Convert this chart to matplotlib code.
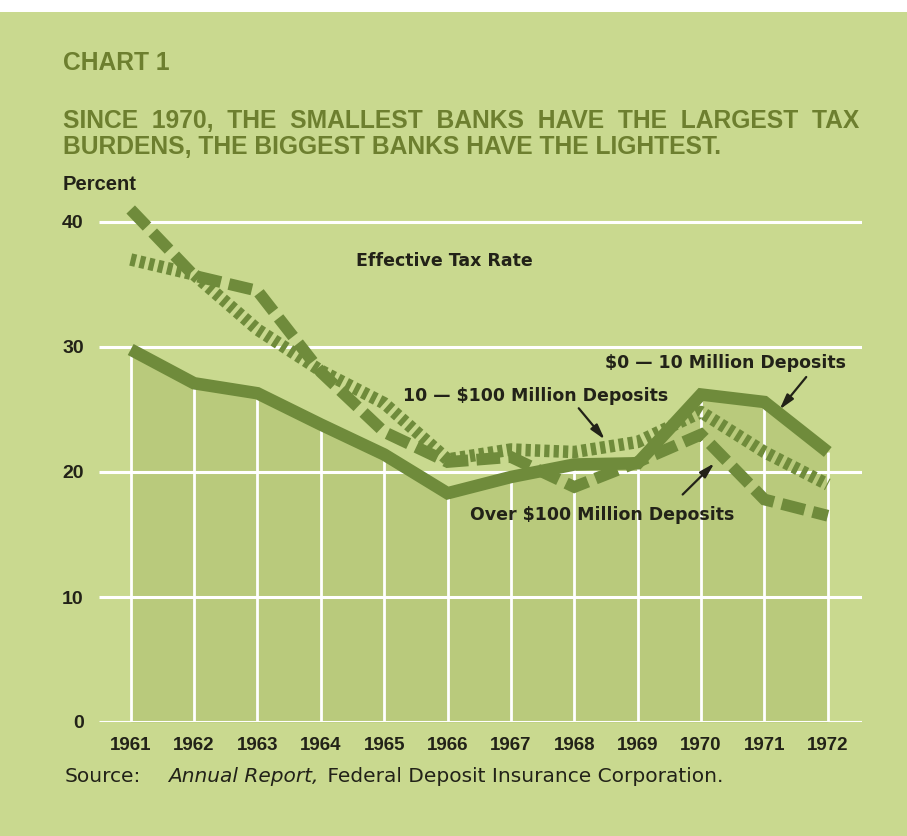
import matplotlib.pyplot as plt
from matplotlib.patches import Rectangle

# Effective tax rate, percent
years = [1961, 1962, 1963, 1964, 1965, 1966, 1967, 1968, 1969, 1970, 1971, 1972]
small_banks = [29.8, 27.1, 26.3, 23.8, 21.4, 18.3, 19.6, 20.6, 20.7, 26.2, 25.6, 21.6]
mid_banks = [37.0, 35.8, 31.4, 28.1, 25.5, 21.0, 21.8, 21.6, 22.4, 24.8, 21.6, 19.0]
large_banks = [41.0, 35.7, 34.5, 28.0, 23.2, 20.8, 21.2, 18.8, 20.8, 23.0, 17.8, 16.5]
yticks = [0, 10, 20, 30, 40]

bg = '#c9d98f'
fill_col = '#b9ca7c'
line_col = '#6f8b3b'
title_col = '#6d7f2f'
dark = '#222218'

lib = ['Liberation Sans', 'DejaVu Sans']
dv = ['DejaVu Sans']

fig = plt.figure(figsize=(9.07, 8.36), dpi=100, facecolor=bg)
fig.add_artist(Rectangle((0, 1 - 12 / 836), 1, 12 / 836, transform=fig.transFigure,
                         facecolor='white', edgecolor='none'))

ax = fig.add_axes([99 / 907, 114 / 836, 763 / 907, 531 / 836])
ax.set_facecolor('none')
ax.set_xlim(1960.5, 1972.54)
ax.set_ylim(0, 42.48)
for s in ax.spines.values():
    s.set_visible(False)

# shaded area under the smallest-bank line, with white year lines inside it
ax.fill_between(years, 0, small_banks, color=fill_col, lw=0, zorder=1)
ax.vlines(years, 0, small_banks, color='white', lw=2, zorder=2)
ax.hlines(yticks, 1960.5, 1972.54, color='white', lw=2.2, zorder=2)

ax.plot(years, small_banks, color=line_col, lw=9, solid_joinstyle='miter',
        solid_capstyle='butt', zorder=3)
ax.plot(years, large_banks, color=line_col, lw=8.5, dashes=(2.0, 0.7),
        dash_capstyle='butt', dash_joinstyle='miter', zorder=4)
ax.plot(years, mid_banks, color=line_col, lw=9, dashes=(0.42, 0.33),
        dash_capstyle='butt', zorder=5)

ax.set_xticks(years)
ax.set_xticklabels([str(y) for y in years], family=lib, weight='bold',
                   fontsize=13.5, color=dark)
ax.set_yticks(yticks)
ax.set_yticklabels([str(v) for v in yticks], family=lib, weight='bold',
                   fontsize=14, color=dark)
ax.tick_params(axis='x', length=0, pad=11)
ax.tick_params(axis='y', length=0, pad=11)

lab = dict(family=dv, weight='bold', fontsize=12.5, color=dark, ha='center', va='center')
ax.text(1965.95, 36.9, 'Effective Tax Rate', **lab)
arrow = dict(arrowstyle='-|>,head_length=0.9,head_width=0.25', color=dark, lw=1.6,
             shrinkA=0, shrinkB=0)
ax.annotate('', xy=(1971.24, 25.0), xytext=(1971.66, 27.6), arrowprops=arrow)
ax.annotate('', xy=(1968.48, 22.6), xytext=(1968.07, 25.1), arrowprops=arrow)
ax.annotate('', xy=(1970.21, 20.7), xytext=(1969.71, 18.2), arrowprops=arrow)
ax.text(1970.38, 28.7, '\\$0 \u2014 10 Million Deposits', **lab)
ax.text(1967.39, 26.1, '10 \u2014 \\$100 Million Deposits', **lab)
ax.text(1968.44, 16.6, 'Over \\$100 Million Deposits', **lab)

ttl = dict(family=lib, weight='bold', fontsize=17.7, color=title_col, va='center', ha='left')
fig.text(63 / 907, 1 - 63 / 836, 'CHART 1', **ttl)
fig.text(63 / 907, 1 - 121 / 836, 'SINCE  1970,  THE  SMALLEST  BANKS  HAVE  THE  LARGEST  TAX', **ttl)
fig.text(63 / 907, 1 - 147 / 836, 'BURDENS, THE BIGGEST BANKS HAVE THE LIGHTEST.', **ttl)
fig.text(63 / 907, 1 - 185 / 836, 'Percent', family=lib, weight='bold', fontsize=14.5,
         color=dark, va='center', ha='left')

src = dict(family=dv, fontsize=14.5, color=dark, va='bottom')
t1 = fig.text(65 / 907, 1 - 786 / 836, 'Source:', **src)
t2 = ax.annotate('Annual Report,', xy=(1, 0), xycoords=t1, xytext=(19, 0),
                 textcoords='offset points', style='italic', **src)
ax.annotate(' Federal Deposit Insurance Corporation.', xy=(1, 0), xycoords=t2,
            xytext=(2, 0), textcoords='offset points', **src)

fig.savefig('out.png', dpi=100, facecolor=bg)
